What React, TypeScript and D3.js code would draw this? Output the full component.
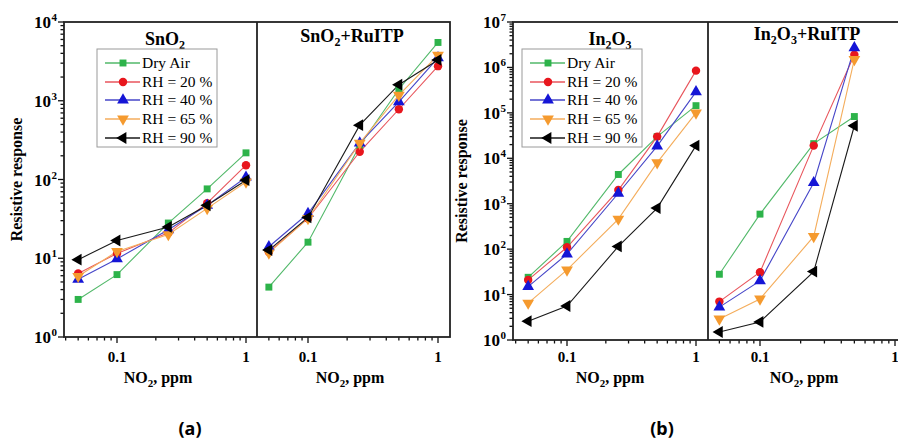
import React from 'react';
import * as d3 from 'd3';

// NO2 concentrations (ppm)
const conc = [0.05, 0.1, 0.25, 0.5, 1];
const concShort = [0.05, 0.1, 0.25, 0.5];

const seriesNames = ['Dry Air', 'RH = 20 %', 'RH = 40 %', 'RH = 65 %', 'RH = 90 %'];

// rows: Dry Air, RH 20, RH 40, RH 65, RH 90
const snO2 = [
  [3.0, 6.2, 28, 76, 218],
  [6.4, 11.5, 21, 50, 152],
  [5.4, 9.8, 23, 47, 107],
  [5.9, 12.2, 20, 43, 93],
  [9.6, 16.8, 25, 47, 98],
];
const snO2Ru = [
  [4.3, 16, 270, 1400, 5500],
  [12, 32, 225, 780, 2750],
  [14, 37, 290, 970, 3500],
  [11.7, 32, 290, 1180, 3800],
  [12.7, 33, 490, 1600, 3300],
];
const in2O3 = [
  [24, 148, 4400, 30000, 144000],
  [21, 110, 2000, 30000, 850000],
  [15, 78, 1700, 18600, 290000],
  [6.5, 35, 460, 8000, 100000],
  [2.6, 5.6, 115, 800, 19000],
];
const in2O3Ru = [
  [28, 590, 21000, 83000],
  [7, 31, 19000, 1900000],
  [5.3, 20, 2900, 2700000],
  [2.9, 8, 190, 1500000],
  [1.5, 2.5, 32, 52000],
];

const colors = ['#2db34a', '#e8161d', '#1515d6', '#f59a2e', '#000000'];
const lineColors = ['#52b96a', '#e8555c', '#4646c8', '#f4ad5c', '#1a1a1a'];
const symbols = [d3.symbolSquare, d3.symbolCircle, d3.symbolTriangle, d3.symbolTriangle, d3.symbolTriangle];
const rotations = [0, 0, 0, 180, -90];
const sizes = [48, 56, 60, 60, 60];

const serif = { fontFamily: '"Liberation Serif", "Times New Roman", serif' };
const serifB = { ...serif, fontWeight: 'bold' as const };

function Marker({ i, x, y }: { i: number; x: number; y: number }) {
  const path = d3.symbol().type(symbols[i]).size(sizes[i])() as string;
  return (
    <path
      d={path}
      transform={`translate(${x},${y}) rotate(${rotations[i]})`}
      fill={colors[i]}
    />
  );
}

type Sub = {
  x0: number;
  x1: number;
  p01: number;
  p1: number;
  xs: number[];
  data: number[][];
  title: React.ReactNode;
  titleX: number;
  titleY: number;
};

function Subplot({ s, y, bottom }: { s: Sub; y: d3.ScaleLogarithmic<number, number>; bottom: number }) {
  const x = d3.scaleLog().domain([0.1, 1]).range([s.p01, s.p1]);
  const ticks: { v: number; major: boolean }[] = [];
  [0.01, 0.1, 1].forEach(d => {
    for (let k = 1; k <= 9; k++) ticks.push({ v: k * d, major: k === 1 });
  });
  const vis = ticks.filter(t => x(t.v) >= s.x0 - 0.5 && x(t.v) <= s.x1 + 0.5);
  const line = d3.line<number>().x((_, j) => x(s.xs[j])).y(v => y(v));
  return (
    <g>
      {vis.map((t, j) => (
        <line key={j} x1={x(t.v)} x2={x(t.v)} y1={bottom} y2={bottom + (t.major ? 6 : 3.5)} stroke="#111" strokeWidth={1.3} />
      ))}
      {vis.filter(t => t.major).map((t, j) => (
        <text key={j} x={x(t.v)} y={362} textAnchor="middle" style={{ ...serifB, fontSize: 15 }}>
          {t.v === 1 ? '1' : '0.1'}
        </text>
      ))}
      {s.data.map((row, i) => (
        <path key={i} d={line(row) as string} fill="none" stroke={lineColors[i]} strokeWidth={1.1} />
      ))}
      {s.data.map((row, i) => (
        <g key={i}>
          {row.map((v, j) => <Marker key={j} i={i} x={x(s.xs[j])} y={y(v)} />)}
        </g>
      ))}
      <text x={s.titleX} y={s.titleY} textAnchor="middle" style={{ ...serifB, fontSize: 18 }}>
        {s.title}
      </text>
    </g>
  );
}

type PanelProps = {
  left: number;
  mid: number;
  right: number;
  top: number;
  bottom: number;
  decades: number;
  subs: [Sub, Sub];
  legendX: number;
  ylabelX: number;
  xlabels: number[];
  tag: string;
  tagX: number;
};

function Panel(p: PanelProps) {
  const y = d3.scaleLog().domain([1, Math.pow(10, p.decades)]).range([p.bottom, p.top]);
  const yt: { v: number; major: boolean; e: number }[] = [];
  for (let d = 0; d <= p.decades; d++) {
    for (let k = 1; k <= (d === p.decades ? 1 : 9); k++) yt.push({ v: k * Math.pow(10, d), major: k === 1, e: d });
  }
  const lx = p.legendX;
  const rows = [63, 82, 100, 119, 138];
  return (
    <g>
      {yt.map((t, j) => (
        <line key={j} x1={p.left - (t.major ? 6 : 3.5)} x2={p.left} y1={y(t.v)} y2={y(t.v)} stroke="#111" strokeWidth={1.3} />
      ))}
      {yt.filter(t => t.major).map((t, j) => (
        <text key={j} x={p.left - 13} y={y(t.v) + 6} textAnchor="end" style={{ ...serifB, fontSize: 17 }}>
          10
        </text>
      ))}
      {yt.filter(t => t.major).map((t, j) => (
        <text key={'e' + j} x={p.left - 7} y={y(t.v) - 1} textAnchor="end" style={{ ...serifB, fontSize: 11 }}>
          {t.e}
        </text>
      ))}
      <text
        transform={`translate(${p.ylabelX},${(p.top + p.bottom) / 2}) rotate(-90)`}
        textAnchor="middle"
        style={{ ...serifB, fontSize: 16 }}
      >
        Resistive response
      </text>
      {p.subs.map((s, i) => (
        <Subplot key={i} s={s} y={y} bottom={p.bottom} />
      ))}
      {p.xlabels.map((cx, i) => (
        <text key={i} x={cx} y={383} textAnchor="middle" style={{ ...serifB, fontSize: 16 }}>
          NO<tspan fontSize={11} dy={4}>2</tspan>
          <tspan dy={-4}>, ppm</tspan>
        </text>
      ))}
      <rect x={p.left} y={p.top} width={p.right - p.left} height={p.bottom - p.top} fill="none" stroke="#222" strokeWidth={1.8} />
      <line x1={p.mid} x2={p.mid} y1={p.top} y2={p.bottom} stroke="#222" strokeWidth={1.8} />
      <rect x={lx} y={49} width={120} height={98} fill="#fff" stroke="#9a9a9a" strokeWidth={1} />
      {seriesNames.map((n, i) => (
        <g key={i}>
          <line x1={lx + 8} x2={lx + 43} y1={rows[i]} y2={rows[i]} stroke={lineColors[i]} strokeWidth={1.3} />
          <Marker i={i} x={lx + 26} y={rows[i]} />
          <text x={lx + 45} y={rows[i] + 5} style={{ ...serif, fontSize: 15.5 }}>
            {n}
          </text>
        </g>
      ))}
      <text x={p.tagX} y={435} textAnchor="middle" style={{ fontFamily: '"Noto Sans", "DejaVu Sans", sans-serif', fontWeight: 'bold', fontSize: 18 }}>
        {p.tag}
      </text>
    </g>
  );
}

const sub = (t: string, s: string, rest?: string) => (
  <>
    {t}
    <tspan fontSize={12} dy={4}>{s}</tspan>
    {rest !== undefined && <tspan dy={-4}>{rest}</tspan>}
  </>
);

export default function App() {
  const panelA: PanelProps = {
    left: 64,
    mid: 257,
    right: 450,
    top: 22,
    bottom: 337,
    decades: 4,
    legendX: 97,
    ylabelX: 22,
    xlabels: [158, 350],
    tag: '(a)',
    tagX: 190,
    subs: [
      { x0: 64, x1: 257, p01: 117, p1: 246, xs: conc, data: snO2, title: sub('SnO', '2'), titleX: 165, titleY: 45 },
      { x0: 257, x1: 450, p01: 308, p1: 438, xs: conc, data: snO2Ru, title: sub('SnO', '2', '+RuITP'), titleX: 352, titleY: 42 },
    ],
  };
  const panelB: PanelProps = {
    left: 513,
    mid: 708,
    right: 903,
    top: 22,
    bottom: 340,
    decades: 7,
    legendX: 522,
    ylabelX: 467,
    xlabels: [610, 804],
    tag: '(b)',
    tagX: 662,
    subs: [
      { x0: 513, x1: 708, p01: 567, p1: 696, xs: conc, data: in2O3, title: <>In<tspan fontSize={12} dy={4}>2</tspan><tspan dy={-4}>O</tspan><tspan fontSize={12} dy={4}>3</tspan></>, titleX: 610, titleY: 45 },
      { x0: 708, x1: 903, p01: 760, p1: 895, xs: concShort, data: in2O3Ru, title: <>In<tspan fontSize={12} dy={4}>2</tspan><tspan dy={-4}>O</tspan><tspan fontSize={12} dy={4}>3</tspan><tspan dy={-4}>+RuITP</tspan></>, titleX: 807, titleY: 40 },
    ],
  };
  return (
    <svg width={898} height={441} style={{ position: 'absolute', left: 0, top: 0, background: '#fff' }}>
      <Panel {...panelA} />
      <Panel {...panelB} />
    </svg>
  );
}
